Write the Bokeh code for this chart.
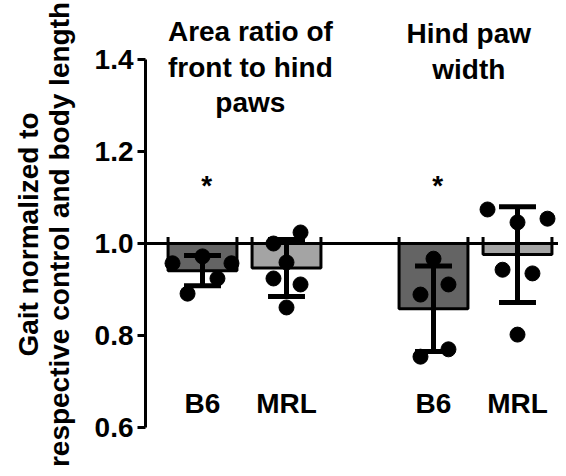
from bokeh.plotting import figure
from bokeh.models import Range1d, LinearAxis, FixedTicker, PrintfTickFormatter, Span, ColumnDataSource
from bokeh.core.properties import value
from bokeh.embed import file_html
from bokeh.resources import INLINE

# ---- data ----
group_titles = ["Area ratio of\nfront to hind\npaws", "Hind paw\nwidth"]
strains = ["B6", "MRL", "B6", "MRL"]
bar_means = [0.941, 0.947, 0.858, 0.976]
bar_sds = [0.033, 0.062, 0.093, 0.104]
bar_colors = ["#646464", "#a4a4a4", "#646464", "#a4a4a4"]

pts_area_b6 = [0.957, 0.972, 0.957, 0.924, 0.891]
pts_area_mrl = [1.000, 1.024, 0.959, 0.924, 0.911, 0.861]
pts_paw_b6 = [0.967, 0.911, 0.889, 0.770, 0.754]
pts_paw_mrl = [1.074, 1.046, 1.054, 0.943, 0.935, 0.802]
all_points = [pts_area_b6, pts_area_mrl, pts_paw_b6, pts_paw_mrl]

# horizontal jitter of the dots (layout)
point_offsets = [
    [-0.357, 0.0, 0.345, 0.178, -0.178],
    [-0.155, 0.167, 0.0, -0.155, 0.167, 0.0],
    [0.0, 0.178, -0.155, 0.178, -0.155],
    [-0.357, 0.0, 0.357, -0.178, 0.178, 0.0],
]
significant = [True, False, True, False]
y_ticks = [0.6, 0.8, 1.0, 1.2, 1.4]
y_title = "Gait normalized to\nrespective control and body length"

# ---- layout positions ----
bar_x = [0.0, 1.0, 2.75, 3.75]
bar_w = 0.82
title_x = [0.57, 3.17]
title_y = [1.383, 1.417]

FONT = "Liberation Sans"

p = figure(width=558, height=468, output_backend="svg", toolbar_location=None,
           x_axis_type=None, y_axis_type=None,
           x_range=Range1d(-0.6786, 4.238), y_range=Range1d(0.5109, 1.5283),
           min_border_left=145, min_border_right=0, min_border_top=0, min_border_bottom=0)
p.outline_line_color = None
p.background_fill_color = "white"
p.border_fill_color = "white"

yaxis = LinearAxis(bounds=(0.6, 1.4), ticker=FixedTicker(ticks=y_ticks),
                   formatter=PrintfTickFormatter(format="%.1f"))
yaxis.axis_line_width = 3
yaxis.major_tick_line_width = 3
yaxis.major_tick_out = 8
yaxis.major_tick_in = 0
yaxis.minor_tick_line_color = None
yaxis.major_label_standoff = 4
yaxis.major_label_text_font = FONT
yaxis.major_label_text_font_style = "bold"
yaxis.major_label_text_font_size = "28px"
yaxis.major_label_text_color = "black"
yaxis.axis_label = y_title
yaxis.axis_label_text_font = FONT
yaxis.axis_label_text_font_style = "bold"
yaxis.axis_label_text_font_size = "28px"
yaxis.axis_label_text_line_height = 1.0
yaxis.axis_label_text_color = "black"
yaxis.axis_label_standoff = 17
p.add_layout(yaxis, "left")

# bars hanging from 1.0
src = ColumnDataSource(dict(x=bar_x, top=[1.0] * 4, bottom=bar_means, color=bar_colors))
p.vbar(x="x", top="top", bottom="bottom", width=bar_w, source=src,
       fill_color="color", line_color="black", line_width=3)
# small stubs of the bar sides above the reference line
edges = [bx - bar_w / 2 for bx in bar_x] + [bx + bar_w / 2 for bx in bar_x]
p.segment(x0=edges, y0=[1.0] * 8, x1=edges, y1=[1.014] * 8, line_color="black", line_width=3)

# reference line at 1.0
p.add_layout(Span(location=1.0, dimension="width", line_color="black", line_width=3))

# error bars (mean +/- SD)
lo = [m - s for m, s in zip(bar_means, bar_sds)]
hi = [m + s for m, s in zip(bar_means, bar_sds)]
p.segment(x0=bar_x, y0=lo, x1=bar_x, y1=hi, line_color="black", line_width=5)
cap = 0.22
p.segment(x0=[x - cap for x in bar_x], y0=hi, x1=[x + cap for x in bar_x], y1=hi,
          line_color="black", line_width=5)
p.segment(x0=[x - cap for x in bar_x], y0=lo, x1=[x + cap for x in bar_x], y1=lo,
          line_color="black", line_width=5)

# individual points
px, py = [], []
for bx, pts, offs in zip(bar_x, all_points, point_offsets):
    for v, o in zip(pts, offs):
        px.append(bx + o)
        py.append(v)
p.scatter(px, py, size=15, marker="circle", fill_color="black", line_color="black")

# significance stars
star_x = [bx + 0.05 for bx, s in zip(bar_x, significant) if s]
p.text(x=star_x, y=[1.126] * len(star_x), text=["*"] * len(star_x),
       text_font=value(FONT), text_font_style="bold", text_font_size="28px",
       text_align="center", text_baseline="middle", text_color="black")

# strain labels
p.text(x=bar_x, y=[0.652] * 4, text=strains,
       text_font=value(FONT), text_font_style="bold", text_font_size="28px",
       text_align="center", text_baseline="middle", text_color="black")

# group titles
p.text(x=title_x, y=title_y, text=group_titles,
       text_font=value(FONT), text_font_style="bold", text_font_size="28px",
       text_align="center", text_baseline="middle", text_line_height=1.15,
       text_color="black")

open("out.html", "w").write(file_html(p, INLINE))
